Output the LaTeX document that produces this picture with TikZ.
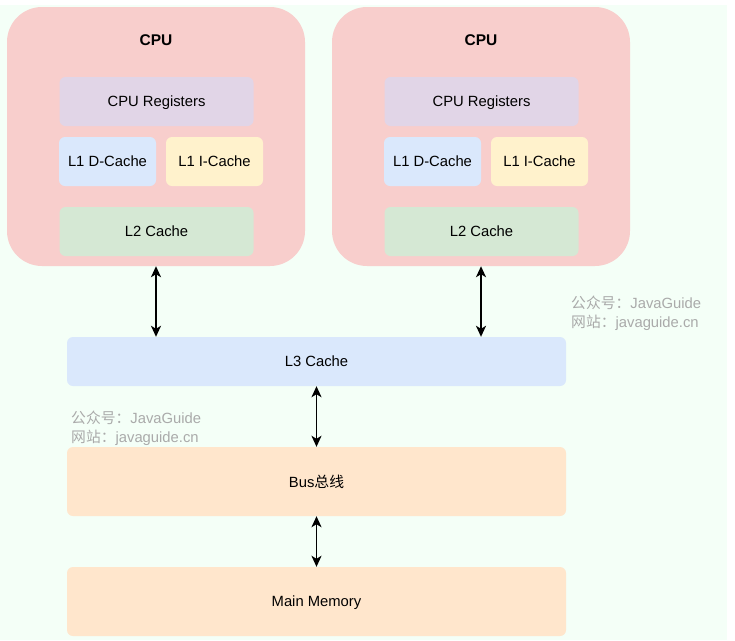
\documentclass[tikz,border=0pt]{standalone}
\usepackage{fontspec}
\setmainfont{Liberation Sans}
\newfontfamily\cjk{Noto Sans CJK SC}
\usetikzlibrary{arrows.meta, positioning}
\definecolor{bgGreen}{RGB}{244,255,247}
\definecolor{cpuRed}{RGB}{248,206,204}
\definecolor{regPurple}{RGB}{225,213,231}
\definecolor{cacheBlue}{RGB}{218,232,252}
\definecolor{cacheYellow}{RGB}{255,242,204}
\definecolor{cacheGreen}{RGB}{213,232,212}
\definecolor{busOrange}{RGB}{255,230,204}
\definecolor{markGray}{RGB}{170,170,170}

\begin{document}
\begin{tikzpicture}[x=1pt, y=-1pt,
	cpu/.style={fill=cpuRed, rounded corners=35pt, minimum width=298pt, minimum height=259pt, inner sep=0pt},
	box/.style={rounded corners=6pt, inner sep=0pt, font=\fontsize{14.8}{17}\selectfont, minimum height=49pt, text depth=0pt},
	title/.style={font=\fontsize{15.5}{18}\selectfont\bfseries, text depth=0pt},
	watermark/.style={text=markGray, font=\fontsize{14.8}{19}\selectfont, align=left, anchor=west, inner sep=0pt},
	arr/.style={{Stealth[length=11pt, width=10pt, inset=3pt]}-{Stealth[length=11pt, width=10pt, inset=3pt]}, line width=1.8pt}]
	\useasboundingbox (0,0) rectangle (735,640);
	\fill[bgGreen] (0,5) rectangle (727,640);
	% two CPUs
	\node[cpu] (cpuA) at (156,136.5) {};
	\node[cpu] (cpuB) at (481,136.5) {};
	\node[title] (titleA) at (156,40.5) {CPU};
	\node[title] (titleB) at (481,40.5) {CPU};
	\node[box, fill=regPurple, minimum width=194pt] (regA) at (156.5,101.5) {CPU Registers};
	\node[box, fill=regPurple, minimum width=194pt] (regB) at (481.5,101.5) {CPU Registers};
	\node[box, fill=cacheBlue, minimum width=97pt] (ldA) at (107.5,161.5) {L1 D-Cache};
	\node[box, fill=cacheYellow, minimum width=97pt] (liA) at (214.5,161.5) {L1 I-Cache};
	\node[box, fill=cacheBlue, minimum width=97pt] (ldB) at (432.5,161.5) {L1 D-Cache};
	\node[box, fill=cacheYellow, minimum width=97pt] (liB) at (539.5,161.5) {L1 I-Cache};
	\node[box, fill=cacheGreen, minimum width=194pt] (ltwoA) at (156.5,231.5) {L2 Cache};
	\node[box, fill=cacheGreen, minimum width=194pt] (ltwoB) at (481.5,231.5) {L2 Cache};
	% shared part
	\node[box, fill=cacheBlue, minimum width=499pt] (lthree) at (316.5,361.5) {L3 Cache};
	\node[box, fill=busOrange, minimum width=499pt, minimum height=69pt] (bus) at (316.5,481.5) {Bus{\cjk 总线}};
	\node[box, fill=busOrange, minimum width=499pt, minimum height=69pt] (mem) at (316.5,601.5) {Main Memory};
	\draw[arr] (cpuA.south) -- (cpuA.south |- lthree.north);
	\draw[arr] (cpuB.south) -- (cpuB.south |- lthree.north);
	\draw[arr] (lthree.south) -- (bus.north);
	\draw[arr] (bus.south) -- (mem.north);
	% watermarks
	\node[watermark] (markA) at (571,313) {{\cjk 公众号：}JavaGuide\\{\cjk 网站：}javaguide.cn};
	\node[watermark] (markB) at (71,428) {{\cjk 公众号：}JavaGuide\\{\cjk 网站：}javaguide.cn};
\end{tikzpicture}
\end{document}
